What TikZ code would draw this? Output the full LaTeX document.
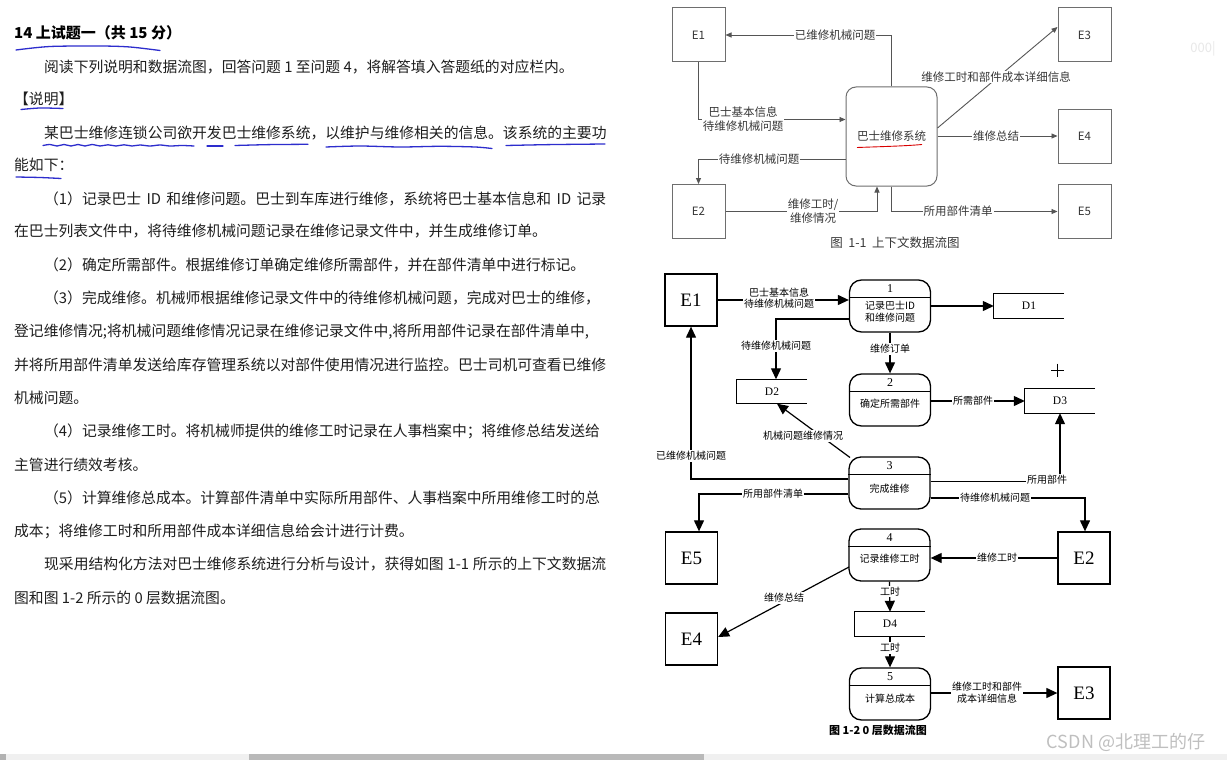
\documentclass[tikz,border=0pt]{standalone}
\usepackage{fontspec}
\setmainfont{Noto Sans CJK SC}
\newfontfamily\cjk{Noto Sans CJK SC}
\newfontfamily\serifl{Liberation Serif}
\usetikzlibrary{arrows.meta,calc}
\XeTeXlinebreaklocale "zh"
\XeTeXlinebreakskip=0pt plus 4pt minus 1pt
\definecolor{textc}{RGB}{30,30,30}
\definecolor{tline}{RGB}{85,85,85}
\definecolor{tbord}{RGB}{110,110,110}
\definecolor{ttext}{RGB}{55,55,55}
\definecolor{pen}{RGB}{45,45,205}
\newcommand\jl[2]{\makebox[#1][s]{#2}}
\begin{document}
\begin{tikzpicture}[x=1pt,y=-1pt,
  txt/.style={anchor=west,inner sep=0,font=\cjk\fontsize{14.8}{16}\selectfont,text=textc},
  txtb/.style={anchor=west,inner sep=0,font=\cjk\bfseries\fontsize{15}{16}\selectfont,text=black},
  penline/.style={draw=pen,line width=1.3pt,line cap=round},
  tbox/.style={draw=tbord,line width=1pt,minimum width=53pt,minimum height=54pt,inner sep=0,font=\cjk\fontsize{11.5}{12}\selectfont,text=ttext},
  tsys/.style={tbox,minimum width=91pt,minimum height=99pt,rounded corners=10pt},
  tarr/.style={draw=tline,line width=0.9pt,-{Triangle[length=6pt,width=5pt]}},
  tlab/.style={fill=white,inner sep=1pt,align=center,font=\cjk\fontsize{11.5}{14}\selectfont,text=ttext},
  bent/.style={draw,line width=1.3pt,minimum width=52pt,minimum height=52pt,inner sep=0,font=\serifl\fontsize{19}{19}\selectfont},
  bproc/.style={draw,line width=1.3pt,minimum width=81pt,minimum height=52pt,rounded corners=12pt,inner sep=0},
  bstore/.style={minimum width=70pt,minimum height=24pt,inner sep=0,font=\serifl\fontsize{11.5}{12}\selectfont},
  bopen/.style={line width=1pt},
  barr/.style={line width=1.2pt,-{Triangle[length=11pt,width=10pt]}},
  blab/.style={fill=white,inner sep=1pt,align=center,font=\cjk\fontsize{10}{11.6}\selectfont},
  bnum/.style={inner sep=0,font=\serifl\fontsize{12}{12}\selectfont},
  btxt/.style={inner sep=0,align=center,font=\cjk\fontsize{10}{11.6}\selectfont}
]
\useasboundingbox (0,0) rectangle (1227,760);
\fill[white] (0,0) rectangle (1227,760);

% ---------- left text ----------
\node[txtb] (t0) at (14,33) {14 上试题一（共 15 分）};
\node[txt] (t1) at (44,66.7) {阅读下列说明和数据流图，回答问题 1 至问题 4，将解答填入答题纸的对应栏内。};
\node[txt] (t2) at (14,98.5) {【说明】};
\node[txt] (t3) at (44,133.3) {\jl{562pt}{某巴士维修连锁公司欲开发巴士维修系统，以维护与维修相关的信息。该系统的主要功}};
\node[txt] (t4) at (14,165) {能如下：};
\node[txt] (t5) at (44,199) {\jl{562pt}{（1）记录巴士 ID 和维修问题。巴士到车库进行维修，系统将巴士基本信息和 ID 记录}};
\node[txt] (t6) at (14,231.5) {在巴士列表文件中，将待维修机械问题记录在维修记录文件中，并生成维修订单。};
\node[txt] (t7) at (44,265) {（2）确定所需部件。根据维修订单确定维修所需部件，并在部件清单中进行标记。};
\node[txt] (t8) at (44,298.3) {\jl{562pt}{（3）完成维修。机械师根据维修记录文件中的待维修机械问题，完成对巴士的维修，}};
\node[txt] (t9) at (14,331.7) {\jl{592pt}{登记维修情况;将机械问题维修情况记录在维修记录文件中,将所用部件记录在部件清单中,}};
\node[txt] (t10) at (14,365) {\jl{592pt}{并将所用部件清单发送给库存管理系统以对部件使用情况进行监控。巴士司机可查看已维修}};
\node[txt] (t11) at (14,398.3) {机械问题。};
\node[txt] (t12) at (44,431.7) {\jl{562pt}{（4）记录维修工时。将机械师提供的维修工时记录在人事档案中；将维修总结发送给}};
\node[txt] (t13) at (14,465) {主管进行绩效考核。};
\node[txt] (t14) at (44,498.3) {\jl{562pt}{（5）计算维修总成本。计算部件清单中实际所用部件、人事档案中所用维修工时的总}};
\node[txt] (t15) at (14,531.7) {成本；将维修工时和所用部件成本详细信息给会计进行计费。};
\node[txt] (t16) at (44,564) {\jl{562pt}{现采用结构化方法对巴士维修系统进行分析与设计，获得如图 1-1 所示的上下文数据流}};
\node[txt] (t17) at (14,598.3) {图和图 1-2 所示的 0 层数据流图。};

% blue pen underlines
\draw[penline] plot[smooth] coordinates {(16,50) (50,46.5) (100,46) (130,47) (160,50.5)};
\draw[penline] plot[smooth] coordinates {(21,109.5) (40,108) (63,108.5)};
\draw[penline] plot[smooth] coordinates {(43,145.5) (50,144.5) (57,146) (64,144.5) (71,146) (78,144.5) (85,146) (92,144.5) (100,146) (108,144.8) (116,146) (124,144.8) (132,146) (140,145) (150,146) (160,145) (170,146) (182,145.5) (194,146)};
\draw[penline] (207,146) -- (223,146);
\draw[penline] plot[smooth] coordinates {(235,145.5) (270,144.6) (308,144.3)};
\draw[penline] plot[smooth] coordinates {(326,147) (360,146) (400,147) (440,146.3) (475,147) (492,148.5)};
\draw[penline] plot[smooth] coordinates {(506,145.5) (550,144.6) (605,144)};
\draw[penline] plot[smooth] coordinates {(16,177) (40,177.5) (61,178.5)};

% ---------- figure 1-1 ----------
\node[tbox] (te1) at (698.5,35) {E1};
\node[tbox] (te3) at (1084.5,35) {E3};
\node[tbox] (te4) at (1084.5,136) {E4};
\node[tbox] (te2) at (698.5,211.5) {E2};
\node[tbox] (te5) at (1084.5,211.5) {E5};
\node[tsys] (sys) at (891.5,136.5) {巴士维修系统};
\draw[red!85!black,line width=0.9pt] (857,147.5) .. controls (885,146.5) and (905,146) .. (922,144.5);

\draw[tarr] (sys.north) |- (te1.east);
\node[tlab] (l1) at (835,35) {已维修机械问题};
\coordinate (k2) at (0,119.5);
\draw[tarr] (te1.south) |- (sys.west |- k2);
\node[tlab] (l2) at (743,119.5) {巴士基本信息\\待维修机械问题};
\coordinate (k3) at (0,159);
\draw[tarr] (sys.west |- k3) -| (te2.north);
\node[tlab] (l3) at (759,159) {待维修机械问题};
\coordinate (k4) at (877,0);
\draw[tarr] (te2.east) -| (sys.south -| k4);
\node[tlab] (l4) at (813,211.5) {维修工时/\\维修情况};
\coordinate (k5a) at (0,128);
\coordinate (k5b) at (0,27);
\draw[tarr] (sys.east |- k5a) -- (te3.west |- k5b);
\node[tlab] (l5) at (996,77) {维修工时和部件成本详细信息};
\draw[tarr] (sys.east |- te4.west) -- (te4.west);
\node[tlab] (l6) at (996,136) {维修总结};
\draw[tarr] (sys.south) |- (te5.west);
\node[tlab] (l7) at (958,211.5) {所用部件清单};
\node[font=\cjk\fontsize{12.5}{13}\selectfont,text=ttext] (cap1) at (895,243) {图\ \ 1-1\ \ 上下文数据流图};
\node[font=\cjk\fontsize{13}{13}\selectfont,text=gray!18] (fz) at (1203,49) {000|};

% ---------- figure 1-2 ----------
\node[bent] (e1b) at (691,300) {E1};
\node[bent] (e5b) at (691.5,558) {E5};
\node[bent] (e4b) at (691.5,639) {E4};
\node[bent] (e2b) at (1084,558) {E2};
\node[bent] (e3b) at (1084,693) {E3};

\node[bproc] (p1) at (890,306) {};
\node[bproc] (p2) at (890,400) {};
\node[bproc] (p3) at (889.5,483) {};
\node[bproc] (p4) at (889.5,555) {};
\node[bproc] (p5) at (890,694) {};
\foreach \p/\n in {p1/1,p2/2,p3/3,p4/4,p5/5}{
  \draw[line width=0.9pt] ($(\p.north west)+(0,18)$) -- ($(\p.north east)+(0,18)$);
  \node[bnum] at ($(\p.north)+(0,9)$) {\n};
}
\node[btxt] (p1t) at ($(p1.north)+(0,32.5)$) {记录巴士ID\\和维修问题};
\node[btxt] (p2t) at ($(p2.north)+(0,30)$) {确定所需部件};
\node[btxt] (p3t) at ($(p3.north)+(0,32)$) {完成维修};
\node[btxt] (p4t) at ($(p4.north)+(0,30.5)$) {记录维修工时};
\node[btxt] (p5t) at ($(p5.north)+(0,31)$) {计算总成本};

\node[bstore] (d1) at (1029,306) {D1};
\node[bstore] (d2) at (772,391.5) {D2};
\node[bstore] (d3) at (1060,401) {D3};
\node[bstore] (d4) at (890,624) {D4};
\foreach \d in {d1,d2,d3,d4}{
  \draw[bopen] (\d.north east) -- (\d.north west) -- (\d.south west) -- (\d.south east);
}

\draw[barr] (e1b.east) -- (p1.west |- e1b.east);
\node[blab] (m1) at (779,298) {巴士基本信息\\待维修机械问题};
\draw[barr] (p1.east) -- (d1.west);
\coordinate (b3) at (776,319);
\draw[barr] (p1.west |- b3) -- (b3) -- (b3 |- d2.north);
\node[blab] (m3) at (776,346) {待维修机械问题};
\draw[barr] (p1.south) -- (p2.north);
\node[blab] (m4) at (890,349) {维修订单};
\draw[barr] (p2.east |- d3.west) -- (d3.west);
\node[blab] (m5) at (973,401) {所需部件};
\coordinate (b6a) at (850,457.5);
\coordinate (b6b) at (777,0);
\draw[barr] (b6a) -- (b6b |- d2.south);
\node[blab] (m6) at (803,436) {机械问题维修情况};
\coordinate (b7) at (0,479);
\draw[barr] (p3.west |- b7) -| (e1b.south);
\node[blab] (m7) at (691,456) {已维修机械问题};
\coordinate (b8) at (0,481.5);
\draw[barr] (p3.east |- b8) -| (d3.south);
\node[blab] (m8) at (1047,480) {所用部件};
\coordinate (b9) at (699,494);
\draw[barr] (p3.west |- b9) -- (b9) -- (b9 |- e5b.north);
\node[blab] (m9) at (773,494) {所用部件清单};
\coordinate (b10) at (1085,498);
\draw[barr] (p3.east |- b10) -- (b10) -- (b10 |- e2b.north);
\node[blab] (m10) at (995,498) {待维修机械问题};
\draw[barr] (e2b.west) -- (p4.east |- e2b.west);
\node[blab] (m11) at (997,558) {维修工时};
\coordinate (b12a) at (849,567);
\coordinate (b12b) at (0,637);
\draw[barr] (b12a) -- (e4b.east |- b12b);
\node[blab] (m12) at (784,598) {维修总结};
\draw[barr] (p4.south) -- (d4.north);
\node[blab] (m13) at (890,591.5) {工时};
\draw[barr] (d4.south) -- (p5.north);
\node[blab] (m14) at (890,648) {工时};
\draw[barr] (p5.east |- e3b.west) -- (e3b.west);
\node[blab] (m15) at (987,693) {维修工时和部件\\成本详细信息};

% cursor crosshair
\draw[line width=0.6pt] (1051,370) -- (1064,370) (1057.5,363.5) -- (1057.5,376.5);

\node[font=\cjk\bfseries\fontsize{11}{12}\selectfont] (cap2) at (878,730) {图 1-2 0 层数据流图};
\node[font=\cjk\fontsize{18}{19}\selectfont,text=gray!50] (wm) at (1126,742) {CSDN @北理工的仔};

% scrollbar
\fill[gray!12] (0,754) rectangle (1227,760);
\fill[gray!55] (249,754) rectangle (704,760);
\fill[gray!60] (0,754) rectangle (6,760);
\end{tikzpicture}
\end{document}
